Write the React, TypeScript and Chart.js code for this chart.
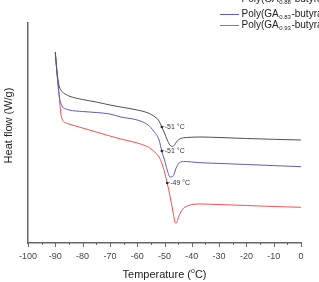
import React, { useEffect, useRef } from "react";
import { Chart, registerables } from "chart.js";

Chart.register(...registerables);

// Temperature grid (°C) shared by all three DSC traces
const temps = [
  -90, -89.5, -89, -88.5, -88, -87.5, -87, -86, -85, -80, -75, -70, -66, -60, -56, -54, -52, -51, -50, -49,
  -48, -47, -46.5, -46, -45.5, -45, -44, -43, -42, -40, -37, -30, -20, -10, 0,
];

// Heat flow (arbitrary offset units)
const flowGA088 = [
  191, 175, 163, 156, 153, 151.5, 150, 148.5, 147, 143.5, 141, 138, 136, 133, 130, 127, 122, 116, 110, 103,
  98, 96.5, 97.5, 99.5, 101.5, 103, 104.5, 105.2, 105.5, 105.8, 106, 105.5, 104.5, 103.7, 103,
];
const flowGA083 = [
  191, 173, 158, 146, 140, 137, 135, 134, 133, 131.5, 130.5, 129, 126, 123, 118, 112, 103, 92, 83, 73,
  66, 66.5, 69, 73, 76.5, 79, 81, 81.5, 81.5, 81, 80.3, 79.6, 78.5, 77.4, 76.3,
];
const flowGA093 = [
  190, 174, 160, 145, 130, 124, 121.5, 120, 119, 115, 111, 107, 104, 100, 96, 92, 86, 80, 71, 60,
  47, 33, 25, 20, 20.5, 25, 31, 35, 36.5, 38.5, 39, 38.5, 37.5, 36.5, 35.7,
];

const seriesSubscripts = ["0.88", "0.83", "0.93"];
const seriesColors = ["#505050", "#5c5cbc", "#f05252"];

// Glass transition temperatures marked on each trace
const tgTemps = [-51, -51, -49];
const tgTexts = ["-51 °C", "-51 °C", "-49 °C"];

const xTickStep = 10;
const xMinorStep = 5;

const FONT = "'Liberation Sans', Arial, sans-serif";

function interp(xs: number[], ys: number[], t: number): number {
  for (let i = 0; i < xs.length - 1; i++) {
    if (t >= xs[i] && t <= xs[i + 1]) {
      const f = (t - xs[i]) / (xs[i + 1] - xs[i]);
      return ys[i] + f * (ys[i + 1] - ys[i]);
    }
  }
  return ys[ys.length - 1];
}

export default function App() {
  const ref = useRef<HTMLCanvasElement>(null);

  useEffect(() => {
    document.body.style.margin = "0";
    const canvas = ref.current!;
    const allFlows = [flowGA088, flowGA083, flowGA093];

    const decor = {
      id: "decor",
      afterDraw(chart: any) {
        const ctx: CanvasRenderingContext2D = chart.ctx;
        const xs = chart.scales.x;
        const ys = chart.scales.y;
        const area = chart.chartArea;
        ctx.save();

        // major / minor tick marks on the temperature axis
        ctx.strokeStyle = "#666";
        ctx.lineWidth = 1;
        for (let v = xs.min; v <= xs.max + 1e-9; v += xMinorStep) {
          const px = Math.round(xs.getPixelForValue(v)) + 0.5;
          const len = Math.abs(v % xTickStep) < 1e-9 ? 4 : 2;
          ctx.beginPath();
          ctx.moveTo(px, area.bottom);
          ctx.lineTo(px, area.bottom + len);
          ctx.stroke();
        }

        // Tg markers with labels
        ctx.font = `7px ${FONT}`;
        ctx.textBaseline = "middle";
        ctx.textAlign = "left";
        tgTemps.forEach((t, i) => {
          const v = interp(temps, allFlows[i], t);
          const px = xs.getPixelForValue(t);
          const py = ys.getPixelForValue(v);
          ctx.fillStyle = "#222";
          ctx.beginPath();
          ctx.arc(px, py, 1.2, 0, Math.PI * 2);
          ctx.fill();
          ctx.strokeStyle = "#444";
          ctx.lineWidth = 0.7;
          ctx.beginPath();
          ctx.moveTo(px, py);
          ctx.lineTo(px + 2.5, py - 0.5);
          ctx.stroke();
          ctx.fillStyle = "#333";
          ctx.fillText(tgTexts[i], px + 3, py + 0.5);
        });

        // legend (top right)
        const legendY = [-1, 14, 25];
        seriesSubscripts.forEach((sub, i) => {
          const y = legendY[i];
          ctx.strokeStyle = seriesColors[i];
          ctx.lineWidth = 1;
          ctx.beginPath();
          ctx.moveTo(220, y + 0.5);
          ctx.lineTo(239, y + 0.5);
          ctx.stroke();
          ctx.fillStyle = "#222";
          ctx.textBaseline = "middle";
          ctx.textAlign = "left";
          ctx.font = `10px ${FONT}`;
          let x = 241.5;
          ctx.fillText("Poly(GA", x, y);
          x += ctx.measureText("Poly(GA").width;
          ctx.font = `6px ${FONT}`;
          ctx.fillText(sub, x + 0.5, y + 3);
          x += ctx.measureText(sub).width + 1;
          ctx.font = `10px ${FONT}`;
          ctx.fillText("-butyrate)", x, y);
        });

        // axis titles
        ctx.fillStyle = "#222";
        ctx.textBaseline = "middle";
        const p1 = "Temperature (";
        const p2 = "C)";
        ctx.font = `11px ${FONT}`;
        const w1 = ctx.measureText(p1).width;
        const w2 = ctx.measureText(p2).width;
        ctx.font = `7px ${FONT}`;
        const ws = ctx.measureText("o").width;
        const total = w1 + ws + w2;
        const cx = (area.left + area.right) / 2;
        let tx = cx - total / 2;
        ctx.textAlign = "left";
        ctx.font = `11px ${FONT}`;
        ctx.fillText(p1, tx, 275);
        tx += w1;
        ctx.font = `7px ${FONT}`;
        ctx.fillText("o", tx, 271);
        tx += ws;
        ctx.font = `11px ${FONT}`;
        ctx.fillText(p2, tx, 275);

        ctx.translate(8.5, 125.5);
        ctx.rotate(-Math.PI / 2);
        ctx.textAlign = "center";
        ctx.fillText("Heat flow (W/g)", 0, 0);
        ctx.restore();
      },
    };

    const mk = (i: number) => ({
      label: "Poly(GA" + seriesSubscripts[i] + "-butyrate)",
      data: temps.map((t, k) => ({ x: t, y: allFlows[i][k] })),
      borderColor: seriesColors[i],
      borderWidth: 1,
      pointRadius: 0,
      fill: false,
      cubicInterpolationMode: "monotone" as const,
    });

    const chart = new Chart(canvas, {
      type: "line",
      data: { datasets: [mk(0), mk(1), mk(2)] },
      options: {
        responsive: false,
        animation: false,
        devicePixelRatio: 1,
        layout: { padding: { top: 23, right: 18, left: 0, bottom: 0 } },
        plugins: { legend: { display: false }, tooltip: { enabled: false } },
        scales: {
          x: {
            type: "linear",
            min: -100,
            max: 0,
            afterFit: (s: any) => {
              s.height = 39;
            },
            ticks: {
              stepSize: xTickStep,
              autoSkip: false,
              maxRotation: 0,
              padding: 4,
              color: "#444",
              font: { size: 9, family: FONT },
            },
            grid: { display: true, drawOnChartArea: false, drawTicks: true, tickLength: 4, color: "rgba(0,0,0,0)" },
            border: { display: true, color: "#666", width: 1.5 },
          },
          y: {
            min: 0,
            max: 220,
            afterFit: (s: any) => {
              s.width = 28;
            },
            ticks: { display: false },
            grid: { display: false },
            border: { display: true, color: "#666", width: 1.5 },
          },
        },
      },
      plugins: [decor],
    });
    return () => chart.destroy();
  }, []);

  return <canvas ref={ref} width={319} height={282} style={{ display: "block" }} />;
}
